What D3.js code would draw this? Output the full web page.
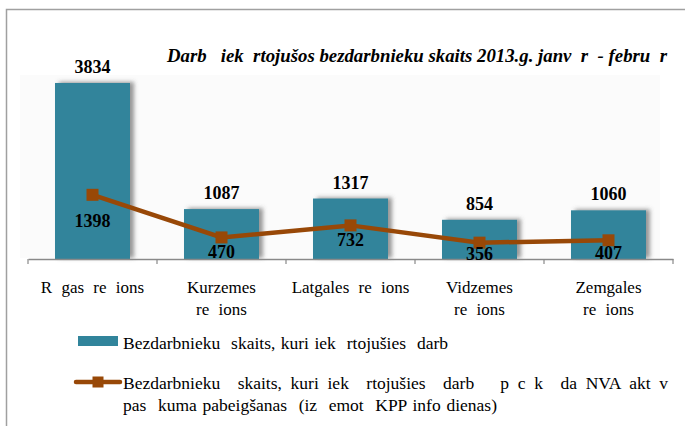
<!DOCTYPE html>
<html><head><meta charset="utf-8">
<script src="https://cdn.jsdelivr.net/npm/d3@7"></script>
<style>
body{margin:0;background:#fff;}
</style></head>
<body><svg id="c" width="685" height="426"></svg>
<script>
const categories = ["R gas re ions", "Kurzemes\nre ions", "Latgales re ions", "Vidzemes\nre ions", "Zemgales\nre ions"];
const barValues = [3834, 1087, 1317, 854, 1060];
const lineValues = [1398, 470, 732, 356, 407];
const lineLabelDy = [32, 21, 21, 17, 19];
const title = "Darb   iek  rtojušos bezdarbnieku skaits 2013.g. janv  r  - febru  r";
const legendBar = "Bezdarbnieku  skaits, kuri iek  rtojušies  darb";
const legendLine = ["Bezdarbnieku  skaits, kuri iek  rtojušies  darb   p c k  da NVA akt v", "pas  kuma pabeigšanas  (iz  emot  KPP info dienas)"];

const FONT = "Liberation Serif";
const keep = s => s.replace(/ {2,}/g, m => " " + "\u00a0".repeat(m.length-1));
// stretch inter-word gaps so a text spans a given width
function fit(t, width){
  const n = (t.text().match(/[ \u00a0]/g)||[]).length;
  const w = t.node().getComputedTextLength();
  if(n) t.attr("word-spacing", (width - w)/n);
  return t;
}
const barColor = "#31849b", lineColor = "#984807";
const svg = d3.select("#c");
const defs = svg.append("defs");
const f = defs.append("filter").attr("id","sh").attr("x","-20%").attr("y","-20%").attr("width","150%").attr("height","150%");
f.append("feDropShadow").attr("dx",4).attr("dy",-1).attr("stdDeviation",2).attr("flood-color","#555").attr("flood-opacity",0.6);

// frame
svg.append("path").attr("d","M6.5,426V9.5H685").attr("fill","none").attr("stroke","#a0a0a0").attr("stroke-width",1.5);
svg.append("rect").attr("x",20).attr("y",75).attr("width",640).attr("height",183).attr("fill","#fbfbfb");

const xb = d3.scaleBand().domain(categories).range([28, 673]);
const y = d3.scaleLinear().domain([0, 4500]).range([259, 52.4]);
const cx = i => xb(categories[i])+xb.bandwidth()/2;

// bars
svg.append("g").selectAll("rect").data(barValues).join("rect")
  .attr("x",(d,i)=>cx(i) - 37.5)
  .attr("width",75)
  .attr("y",d=>y(d)).attr("height",d=>y(0)-y(d))
  .attr("fill",barColor).attr("filter","url(#sh)");

// axis
const ax = svg.append("g").attr("transform","translate(0,259)")
  .call(d3.axisBottom(xb).tickSize(0).tickFormat(""));
ax.select(".domain").attr("stroke","#898989").attr("stroke-width",1.5);
const bounds = categories.map(c=>xb(c)).concat([xb.range()[1]]);
svg.append("g").selectAll("line").data(bounds).join("line")
  .attr("x1",d=>d).attr("x2",d=>d).attr("y1",259).attr("y2",264)
  .attr("stroke","#898989").attr("stroke-width",1.2);

// category labels
categories.forEach((c,i)=>{
  const t = svg.append("text").attr("font-family",FONT).attr("text-anchor","middle").attr("font-size",17)
    .attr("word-spacing",5).attr("x", cx(i)).attr("y",293).attr("fill","#000");
  c.split("\n").forEach((s,j)=>t.append("tspan").attr("x",cx(i)).attr("dy",j?21.5:0).text(s));
});

// bar labels
svg.append("g").selectAll("text").data(barValues).join("text")
  .attr("font-family",FONT)
  .attr("x",(d,i)=>cx(i))
  .attr("y",d=>y(d)-10)
  .attr("text-anchor","middle").attr("font-size",18).attr("font-weight","bold")
  .text(d=>d);

// line
svg.append("path").datum(lineValues)
  .attr("d", d3.line().x((d,i)=>cx(i)).y(d=>y(d)))
  .attr("fill","none").attr("stroke",lineColor).attr("stroke-width",4.5);
svg.append("g").selectAll("rect").data(lineValues).join("rect")
  .attr("x",(d,i)=>cx(i)-6).attr("y",d=>y(d)-6).attr("width",12).attr("height",12)
  .attr("fill",lineColor);
svg.append("g").selectAll("text").data(lineValues).join("text")
  .attr("font-family",FONT)
  .attr("x",(d,i)=>cx(i)).attr("y",(d,i)=>y(d)+lineLabelDy[i])
  .attr("text-anchor","middle").attr("font-size",18).attr("font-weight","bold")
  .text(d=>d);

// title
fit(svg.append("text").attr("font-family",FONT).attr("x",667).attr("y",62).attr("text-anchor","end")
  .attr("font-size",18.8).attr("font-weight","bold").attr("font-style","italic").text(keep(title)), 500);

// legend
svg.append("rect").attr("x",78).attr("y",336).attr("width",40).attr("height",10).attr("fill",barColor);
fit(svg.append("text").attr("font-family",FONT).attr("x",123).attr("y",349).attr("font-size",17.5).text(keep(legendBar)), 325);
svg.append("line").attr("x1",76).attr("x2",120).attr("y1",382).attr("y2",382).attr("stroke",lineColor).attr("stroke-width",4.5).attr("stroke-linecap","round");
svg.append("rect").attr("x",92.5).attr("y",376.5).attr("width",11).attr("height",11).attr("fill",lineColor);
fit(svg.append("text").attr("font-family",FONT).attr("x",123).attr("y",389).attr("font-size",17.5).text(keep(legendLine[0])), 545);
fit(svg.append("text").attr("font-family",FONT).attr("x",123).attr("y",411).attr("font-size",17.5).text(keep(legendLine[1])), 374);
</script></body></html>
